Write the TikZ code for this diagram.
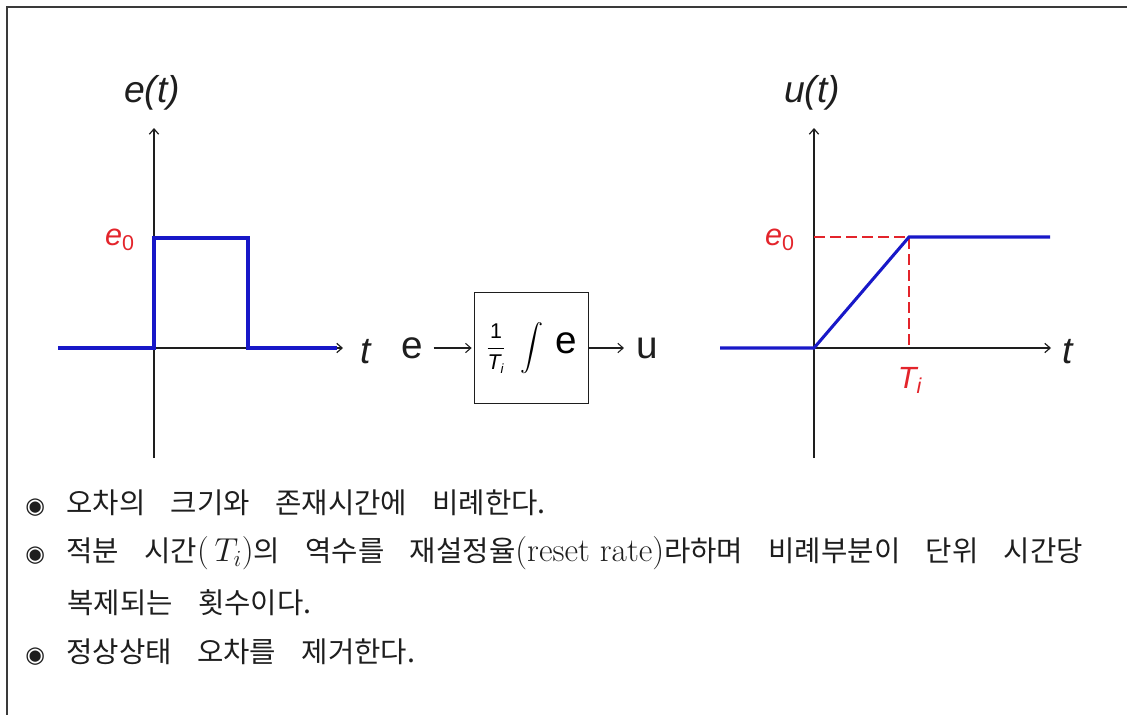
\documentclass[tikz,border=0pt]{standalone}
\usepackage{amsmath}
\usepackage{fontspec}
\newfontfamily\krfont{Noto Sans CJK KR}
\newfontfamily\sgsans{Liberation Sans}
\newfontfamily\sgsym{DejaVu Sans}
\usepackage{tikz}
\usetikzlibrary{arrows.meta,positioning}
\definecolor{sgink}{HTML}{1E1E1E}
\definecolor{sgframe}{HTML}{3A3A3A}
\definecolor{sgblue}{HTML}{1818C8}
\definecolor{sgred}{HTML}{E3242B}
\newcommand{\krsize}{\fontsize{21.5}{23}\selectfont\spaceskip 19pt\relax}
\tikzset{
  sgaxisline/.style={draw=sgink, line width=0.9pt, -{Straight Barb[length=4pt,width=7pt]}},
  sgsig/.style     ={draw=sgblue, line width=2.3pt},
  sgref/.style     ={draw=sgred, line width=0.9pt, dash pattern=on 8pt off 4pt},
  sgflow/.style    ={draw=sgink, line width=0.8pt, -{Straight Barb[length=4pt,width=7pt]}},
  sglbl/.style     ={font=\sgsans\itshape\fontsize{28}{30}\selectfont, text=sgink, inner sep=0pt},
  sglblr/.style    ={font=\sgsans\itshape\fontsize{23}{25}\selectfont, text=sgred, inner sep=0pt},
  sgio/.style      ={font=\sgsans\fontsize{29}{31}\selectfont, text=sgink, inner sep=0pt},
  sgblock/.style   ={draw=sgink, line width=0.8pt, minimum width=85pt, minimum height=83pt,
                     inner sep=0pt, font=\sgsans\fontsize{29}{31}\selectfont},
  sgitem/.style    ={anchor=west, inner sep=0pt, text=sgink, font=\krfont\krsize},
}
\newcommand{\sgbullet}{{\sgsym\fontsize{17}{19}\selectfont ◉}\hspace{16pt}}
\newcommand{\sgtxt}[1]{\mbox{\sgsans#1}}
\newcommand{\sglat}[1]{{\rmfamily\fontsize{25}{27}\selectfont\spaceskip 0pt\relax#1}}

\begin{document}
\begin{tikzpicture}[x=0.75pt,y=-0.75pt]
  \useasboundingbox (0,0) rectangle (1127,715);
  \draw[sgframe, line width=1.5pt] (1127,7) -- (7,7) -- (7,715);
  % left plot: error pulse
  \draw[sgaxisline] (154,458) -- (154,128);
  \draw[sgaxisline] (58,348) -- (343,348);
  \draw[sgsig] (58,348) -- (154,348) -- (154,238) -- (248,238) -- (248,348) -- (337,348);
  \node[sglbl]  (et)  at (152,93)  {e(t)};
  \node[sglbl]  (tl)  at (366,352) {t};
  \node[sglblr] (el)  at (120,240) {e\textsubscript{\upshape 0}};
  % block
  \node[sgio]    (ein)  at (412,348) {e};
  \node[sgblock] (blk)  at (531.5,348)
    {{\fontsize{16}{17}\selectfont$\displaystyle\frac{\sgtxt{1}}{\sgtxt{\itshape T}_{\sgtxt{\itshape\fontsize{10}{11}\selectfont i}}}\hspace{8pt}\int$}\hspace{9pt}e};
  \node[sgio]    (uout) at (647,348) {u};
  \draw[sgflow] ([xshift=8pt]ein.east) -- ([xshift=-2pt]blk.west);
  \draw[sgflow] (blk.east) -- ([xshift=-9pt]uout.west);
  % right plot: control output ramp
  \draw[sgaxisline] (814,458) -- (814,128);
  \draw[sgaxisline] (720,348) -- (1051,348);
  \draw[sgref] (814,237) -- (909,237) -- (909,348);
  \draw[sgsig] (720,348) -- (814,348) -- (909,237) -- (1050,237);
  \node[sglbl]  (ut)  at (812,93)   {u(t)};
  \node[sglbl]  (tr)  at (1068,352) {t};
  \node[sglblr] (er)  at (780,240)  {e\textsubscript{\upshape 0}};
  \node[sglblr] (ti)  at (910,380)  {T\textsubscript{i}};
  % notes
  \node[sgitem] (n1) at (25,503) {\sgbullet 오차의 크기와 존재시간에 비례한다.};
  \node[sgitem] (n2) at (25,553) {\sgbullet 적분 시간\sglat{(\,{\fontsize{25}{27}\selectfont$T_i$})}의 역수를 재설정율\sglat{(reset rate)}라하며 비례부분이 단위 시간당};
  \node[sgitem] (n3) at (67,603) {복제되는 횟수이다.};
  \node[sgitem] (n4) at (25,652) {\sgbullet 정상상태 오차를 제거한다.};
\end{tikzpicture}
\end{document}
